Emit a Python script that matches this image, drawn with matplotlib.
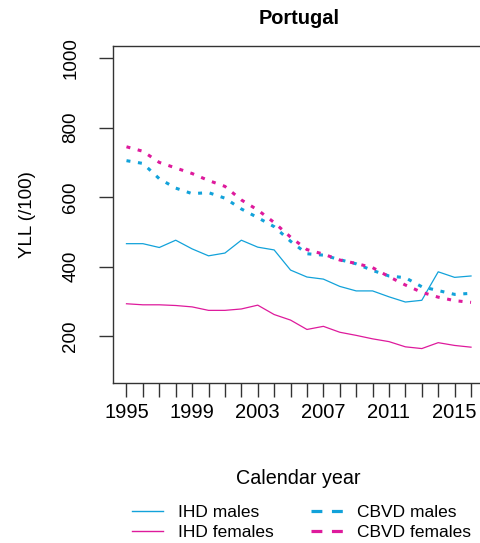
import matplotlib

matplotlib.use("Agg")

import matplotlib.pyplot as plt
from matplotlib.lines import Line2D

plt.rcParams["font.family"] = ["Liberation Sans", "DejaVu Sans"]

# YLL per 100 000, Portugal
years = list(range(1995, 2017))
ihd_males = [466, 466, 455, 476, 451, 431, 439, 476, 456, 448, 390,
             370, 364, 343, 330, 330, 313, 298, 303, 385, 369, 373]
ihd_females = [293, 290, 290, 288, 284, 274, 274, 278, 289, 262, 246,
               219, 228, 211, 202, 192, 184, 169, 164, 181, 173, 168]
cbvd_males = [705, 697, 653, 626, 610, 613, 597, 566, 541, 515, 473,
              437, 433, 420, 408, 389, 373, 368, 342, 331, 320, 323]
cbvd_females = [745, 732, 700, 684, 668, 648, 631, 592, 563, 527, 485,
                449, 436, 419, 409, 397, 371, 347, 326, 312, 302, 297]
x_labels = [1995, 1999, 2003, 2007, 2011, 2015]
y_ticks = [200, 400, 600, 800, 1000]

CYAN = "#12A2DA"
PINK = "#DE1A9C"
W, H = 480, 543

fig = plt.figure(figsize=(W / 100, H / 100), dpi=100)
# axes box runs a little past the right edge, as in the original export
ax = fig.add_axes([112.7 / W, 1 - 383.3 / H, (484.8 - 112.7) / W, (383.3 - 45.7) / H])

ax.plot(years, ihd_males, color=CYAN, lw=0.9)
ax.plot(years, ihd_females, color=PINK, lw=0.9)
ax.plot(years, cbvd_males, color=CYAN, lw=2.2, dashes=(1.3, 2.5))
ax.plot(years, cbvd_females, color=PINK, lw=2.2, dashes=(1.3, 2.5))

ax.set_xlim(1994.16, 2016.84)
ax.set_ylim(64, 1036)
ax.set_xticks(years)
ax.set_xticklabels([str(y) if y in x_labels else "" for y in years], fontsize=14.5)
ax.set_yticks(y_ticks)
ax.set_yticklabels([str(v) for v in y_ticks], fontsize=13.5, rotation=90, va="center")
ax.tick_params(axis="both", length=10, width=1.0, color="#333333", direction="out")
ax.tick_params(axis="x", pad=4)
ax.tick_params(axis="y", pad=14)
for s in ax.spines.values():
    s.set_color("#333333")
    s.set_linewidth(1.0)

fig.text(298.7 / W, 1 - 19 / H, "Portugal", ha="center", va="center",
         fontsize=14.4, fontweight="bold")
fig.text(298.7 / W, 1 - 478 / H, "Calendar year", ha="center", va="center", fontsize=14.2)
fig.text(28 / W, 1 - 214.5 / H, "YLL (/100)", ha="center", va="center",
         rotation=90, fontsize=13.5)

handles = [
    Line2D([], [], color=CYAN, lw=1.0),
    Line2D([], [], color=PINK, lw=1.0),
    Line2D([], [], color=CYAN, lw=2.3, dashes=(3.4, 3.0)),
    Line2D([], [], color=PINK, lw=2.3, dashes=(3.4, 3.0)),
]
labels = ["IHD males", "IHD females", "CBVD males", "CBVD females"]
fig.legend(handles, labels, ncol=2, loc="upper left",
           bbox_to_anchor=(132 / W, 1 - 505 / H), frameon=False,
           fontsize=12.5, handlelength=1.8, handletextpad=0.85,
           columnspacing=2.17, labelspacing=0.27, borderpad=0, borderaxespad=0)

fig.savefig("out.png", dpi=100)
